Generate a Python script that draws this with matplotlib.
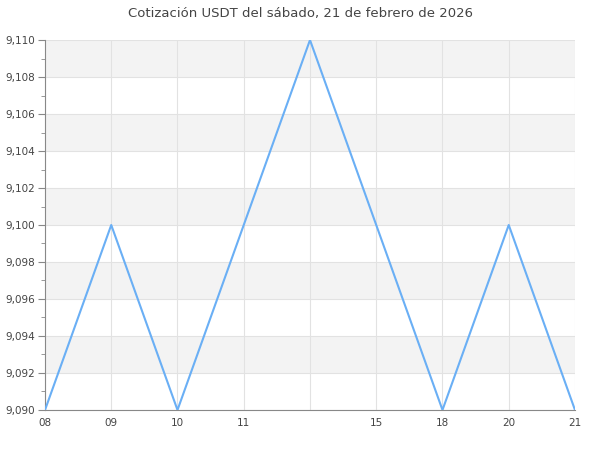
import numpy as np
import matplotlib.pyplot as plt
from matplotlib.ticker import FuncFormatter, MultipleLocator

# data
hours = ["08", "09", "10", "11", "", "15", "18", "20", "21"]
price = [9.090, 9.100, 9.090, 9.100, 9.110, 9.100, 9.090, 9.100, 9.090]

fig = plt.figure(figsize=(6, 4.5), dpi=100)
ax = fig.add_axes([0.075, 0.0889, 0.8833, 0.8222])

x = np.arange(len(price))
ax.plot(x, price, color="#6aaff5", lw=1.5, zorder=3)

ax.set_xlim(0, len(price) - 1)
ax.set_ylim(9.090, 9.110)

# alternating bands
for y0 in np.arange(9.092, 9.110, 0.004):
    ax.axhspan(y0, y0 + 0.002, color="#f3f3f3", zorder=0, lw=0)

ax.yaxis.set_major_locator(MultipleLocator(0.002))
ax.yaxis.set_minor_locator(MultipleLocator(0.001))
ax.yaxis.set_major_formatter(FuncFormatter(lambda v, p: f"{v:.3f}".replace(".", ",")))
ax.set_xticks(x)
ax.set_xticklabels(hours)

ax.grid(True, which="major", color="#e2e2e2", lw=0.8, zorder=1)
ax.set_axisbelow(True)

for s in ["top", "right"]:
    ax.spines[s].set_visible(False)
for s in ["left", "bottom"]:
    ax.spines[s].set_color("#888888")

ax.tick_params(axis="y", which="major", length=5, color="#888888", labelsize=7.5, labelcolor="#444444", pad=2)
ax.tick_params(axis="y", which="minor", length=3, color="#888888")
ax.tick_params(axis="x", length=0, labelsize=7.5, labelcolor="#444444", pad=6)

fig.suptitle("Cotización USDT del sábado, 21 de febrero de 2026", y=0.985, fontsize=9.5, color="#444444")

fig.savefig("out.png", dpi=100)
